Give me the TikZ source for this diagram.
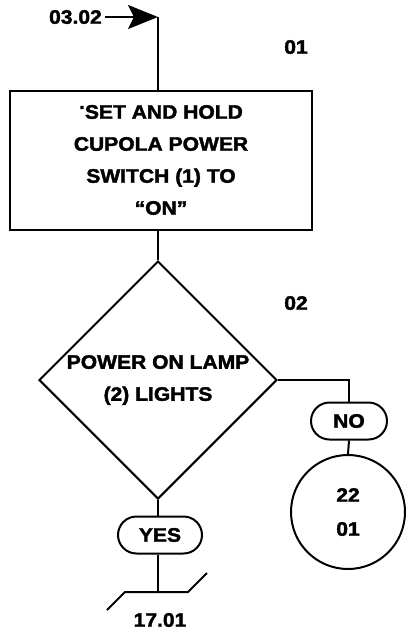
\documentclass[tikz,border=0pt]{standalone}
\usepackage{fontspec}
\setmainfont{Liberation Sans}[FakeStretch=1.08,FakeBold=2]
\usetikzlibrary{arrows.meta,positioning,shapes.geometric,shapes.misc}
\tikzset{
  txt/.style={font=\fontsize{19.5}{32}\selectfont\bfseries,align=center,inner sep=0pt},
  actbox/.style={txt,draw,line width=2pt,minimum width=302pt,minimum height=139pt},
  decision/.style={txt,draw,diamond,aspect=1,line width=2pt,minimum width=238pt,minimum height=238pt},
  answer/.style={txt,draw,rounded rectangle,line width=2pt,minimum height=37pt},
  offpage/.style={txt,draw,circle,line width=2pt,minimum size=114pt},
  flow/.style={line width=2pt},
  entry/.style={-{Stealth[length=30pt,width=24pt,inset=6pt]},line width=2pt},
  stepno/.style={txt}
}
\begin{document}
\begin{tikzpicture}[x=1pt,y=-1pt]
  \useasboundingbox (0,0) rectangle (405,632);
  % entry from 03.02
  \node[txt, anchor=east] (from) at (102,17) {03.02};
  \coordinate (top) at (158,17);
  \node[actbox] (s1) at (161,160) {\raisebox{0.5em}{.}SET AND HOLD\\CUPOLA POWER\\SWITCH (1) TO\\``ON''};
  \node[stepno] (n1) at (296,47) {01};
  \node[decision] (s2) at (158,380) {POWER ON LAMP\\(2) LIGHTS};
  \node[stepno] (n2) at (296,303) {02};
  \node[answer, minimum width=76pt] (no) at (349,421) {NO};
  \node[offpage] (c22) at (348,512) {22\\[2pt]01};
  \node[answer, minimum width=84pt] (yes) at (160,535) {YES};
  \coordinate (bar) at (158,592);
  \node[txt] (to) at (160,620) {17.01};

  \draw[entry] (from.east) ++(3,0) -- (top);
  \draw[flow] (top) -- (top |- s1.north);
  \draw[flow] (top |- s1.south) -- (s2.north);
  \draw[flow] (s2.east) -| (no.north);
  \draw[flow] (no.south) -- (c22.north);
  \draw[flow] (s2.south) -- (s2.south |- yes.north);
  \draw[flow] (s2.south |- yes.south) -- (bar);
  \draw[flow] (107,610) -- (125,592) -- (bar) -- (188,592) -- (207,573);
\end{tikzpicture}
\end{document}
